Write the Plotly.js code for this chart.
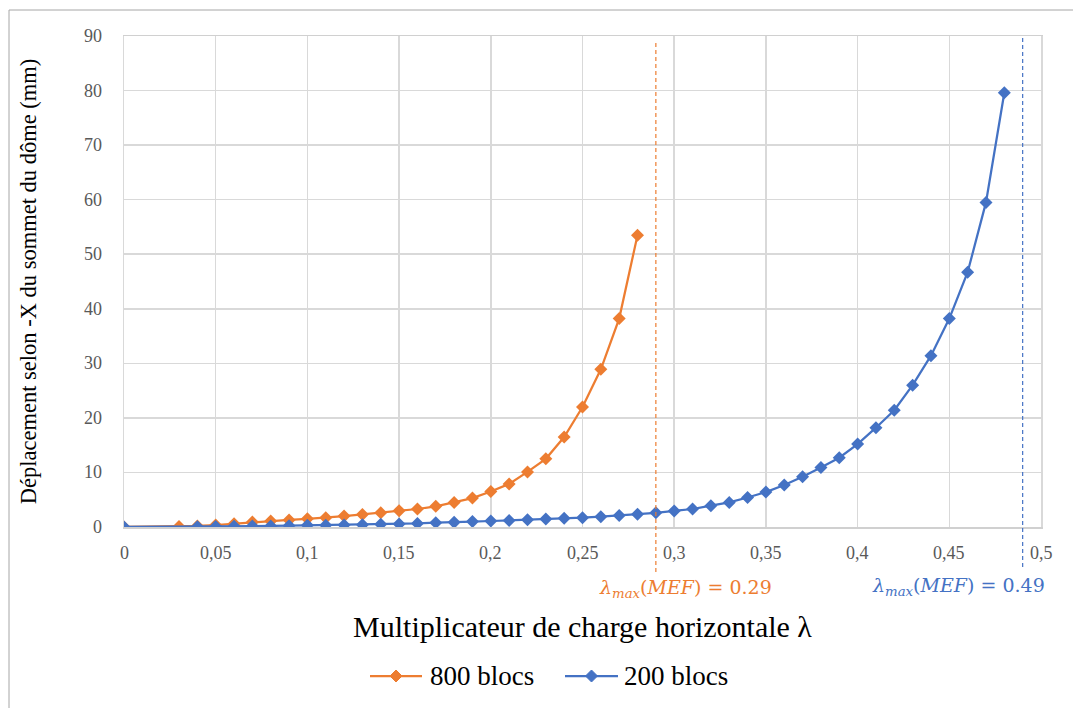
<!DOCTYPE html>
<html>
<head>
<meta charset="utf-8">
<script src="https://cdn.plot.ly/plotly-3.0.1.min.js"></script>
<style>
html,body{margin:0;padding:0;background:#fff;}
#chart{width:1073px;height:708px;}
</style>
</head>
<body>
<div id="chart"></div>
<script>
const x800 = [0, 0.03, 0.04, 0.05, 0.06, 0.07, 0.08, 0.09, 0.10, 0.11, 0.12, 0.13, 0.14, 0.15, 0.16, 0.17, 0.18, 0.19, 0.20, 0.21, 0.22, 0.23, 0.24, 0.25, 0.26, 0.27, 0.28];
const y800 = [0, 0.1, 0.2, 0.35, 0.6, 0.9, 1.1, 1.3, 1.5, 1.7, 2.0, 2.3, 2.6, 3.0, 3.3, 3.8, 4.5, 5.3, 6.5, 7.9, 10.1, 12.5, 16.5, 22.0, 28.9, 38.2, 53.5];
const x200 = [0, 0.04, 0.05, 0.06, 0.07, 0.08, 0.09, 0.10, 0.11, 0.12, 0.13, 0.14, 0.15, 0.16, 0.17, 0.18, 0.19, 0.20, 0.21, 0.22, 0.23, 0.24, 0.25, 0.26, 0.27, 0.28, 0.29, 0.30, 0.31, 0.32, 0.33, 0.34, 0.35, 0.36, 0.37, 0.38, 0.39, 0.40, 0.41, 0.42, 0.43, 0.44, 0.45, 0.46, 0.47, 0.48];
const y200 = [0, 0.05, 0.1, 0.12, 0.18, 0.2, 0.25, 0.3, 0.32, 0.35, 0.4, 0.5, 0.55, 0.65, 0.8, 0.85, 1.0, 1.1, 1.2, 1.35, 1.45, 1.6, 1.7, 1.9, 2.1, 2.35, 2.6, 2.95, 3.3, 3.9, 4.5, 5.4, 6.4, 7.7, 9.2, 10.9, 12.7, 15.2, 18.2, 21.4, 26.0, 31.4, 38.2, 46.7, 59.5, 79.6];
const seriesNames = ['800 blocs', '200 blocs'];
const lambdaMax = [0.29, 0.49];
const lambdaLabels = ['<i>λ</i><sub><i>max</i></sub>(<i>MEF</i>) = 0.29', '<i>λ</i><sub><i>max</i></sub>(<i>MEF</i>) = 0.49'];
const xTickVals = [0, 0.05, 0.1, 0.15, 0.2, 0.25, 0.3, 0.35, 0.4, 0.45, 0.5];
const xTickText = ['0', '0,05', '0,1', '0,15', '0,2', '0,25', '0,3', '0,35', '0,4', '0,45', '0,5'];
const yTickVals = [0, 10, 20, 30, 40, 50, 60, 70, 80, 90];
const yTickText = ['0', '10', '20', '30', '40', '50', '60', '70', '80', '90'];
const xTitle = 'Multiplicateur de charge horizontale λ';
const yTitle = 'Déplacement selon -X du sommet du dôme (mm)';

const ORANGE = '#ED7D31', BLUE = '#4472C4';
const COLORS = [ORANGE, BLUE];
const serif = 'Liberation Serif';
const mathFont = 'DejaVu Serif';

// plot-area geometry (pixels) used to place legend/labels in paper units
const W = 1073, H = 708, ML = 124, MR = 32, MT = 36, MB = 181;
const PW = W - ML - MR, PH = H - MT - MB;
const px = v => (v - ML) / PW;
const py = v => (H - MB - v) / PH;

const traces = [
  {x: x800, y: y800, name: seriesNames[0], type: 'scatter', mode: 'lines+markers',
   line: {color: ORANGE, width: 2.25}, marker: {symbol: 'diamond', size: 10, color: ORANGE}},
  {x: x200, y: y200, name: seriesNames[1], type: 'scatter', mode: 'lines+markers',
   line: {color: BLUE, width: 2.25}, marker: {symbol: 'diamond', size: 10, color: BLUE}}
];

const shapes = [
  {type: 'line', xref: 'x', yref: 'paper', x0: lambdaMax[0], x1: lambdaMax[0], y0: py(572), y1: py(40),
   line: {color: ORANGE, width: 1.2, dash: '4px,3px'}},
  {type: 'line', xref: 'x', yref: 'paper', x0: lambdaMax[1], x1: lambdaMax[1], y0: py(567), y1: py(38),
   line: {color: BLUE, width: 1.2, dash: '4px,3px'}},
  {type: 'line', xref: 'paper', yref: 'paper', x0: px(9), x1: px(1100), y0: py(10), y1: py(10),
   line: {color: '#a6a6a6', width: 1}},
  {type: 'line', xref: 'paper', yref: 'paper', x0: px(9), x1: px(9), y0: py(10), y1: py(760),
   line: {color: '#a6a6a6', width: 1}}
];

const annotations = [
  {x: px(597), xref: 'paper', y: py(588), yref: 'paper', xanchor: 'left', yanchor: 'middle', showarrow: false,
   text: lambdaLabels[0], font: {family: mathFont, size: 19, color: ORANGE}},
  {x: px(1047), xref: 'paper', y: py(586), yref: 'paper', xanchor: 'right', yanchor: 'middle', showarrow: false,
   text: lambdaLabels[1], font: {family: mathFont, size: 19, color: BLUE}}
];

// tick labels
xTickVals.forEach((v, i) => annotations.push({x: v, xref: 'x', y: py(553), yref: 'paper',
  xanchor: 'center', yanchor: 'middle', showarrow: false, text: xTickText[i],
  font: {family: serif, size: 18, color: '#595959'}}));
yTickVals.forEach((v, i) => annotations.push({x: px(104), xref: 'paper', y: v, yref: 'y',
  xanchor: 'right', yanchor: 'middle', showarrow: false, text: yTickText[i],
  font: {family: serif, size: 18, color: '#595959'}}));

// legend
const legendItems = [{x0: 370, x1: 422, tx: 428}, {x0: 565, x1: 618, tx: 622}];
const legY = 676;
legendItems.forEach((it, i) => {
  const cx = (it.x0 + it.x1) / 2;
  shapes.push({type: 'line', xref: 'paper', yref: 'paper', x0: px(it.x0), x1: px(it.x1), y0: py(legY), y1: py(legY),
    line: {color: COLORS[i], width: 2.25}});
  shapes.push({type: 'path', xref: 'paper', yref: 'paper',
    path: `M ${px(cx - 6)} ${py(legY)} L ${px(cx)} ${py(legY - 6)} L ${px(cx + 6)} ${py(legY)} L ${px(cx)} ${py(legY + 6)} Z`,
    fillcolor: COLORS[i], line: {color: COLORS[i], width: 1}});
  annotations.push({x: px(it.tx), xref: 'paper', y: py(legY), yref: 'paper', xanchor: 'left', yanchor: 'middle',
    showarrow: false, text: seriesNames[i], font: {family: serif, size: 27, color: '#000000'}});
});

const layout = {
  width: W, height: H,
  margin: {l: ML, r: MR, t: MT, b: MB},
  paper_bgcolor: '#fff', plot_bgcolor: '#fff',
  font: {family: serif, size: 17, color: '#595959'},
  showlegend: false,
  xaxis: {range: [0, 0.5], tick0: 0, dtick: 0.05, showgrid: true, gridcolor: '#d9d9d9', gridwidth: 1.5,
          zeroline: false, showline: true, linecolor: '#d0d0d0', linewidth: 1.5, mirror: true,
          ticks: '', showticklabels: false,
          title: {text: xTitle, font: {family: serif, size: 30, color: '#000000'}, standoff: 88}},
  yaxis: {range: [0, 90], tick0: 0, dtick: 10, showgrid: true, gridcolor: '#d9d9d9', gridwidth: 1.5,
          zeroline: false, showline: true, linecolor: '#d9d9d9', linewidth: 1.5, mirror: true,
          ticks: '', showticklabels: false,
          title: {text: yTitle, font: {family: serif, size: 22.5, color: '#000000'}, standoff: 79}},
  shapes: shapes,
  annotations: annotations
};

Plotly.newPlot('chart', traces, layout, {displayModeBar: false, staticPlot: true});
</script>
</body>
</html>
